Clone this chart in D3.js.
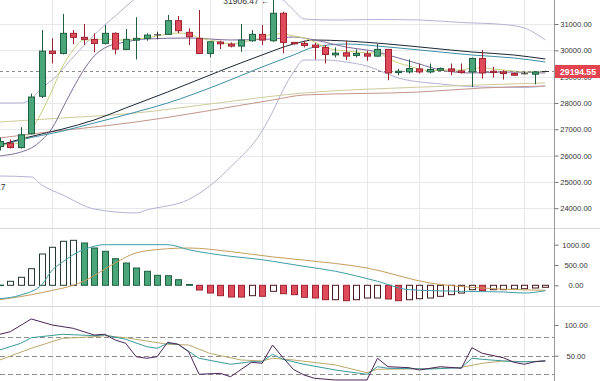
<!DOCTYPE html>
<html><head><meta charset="utf-8">
<script src="https://cdn.jsdelivr.net/npm/d3@7/dist/d3.min.js"></script>
<style>
body{margin:0;background:#fff}
svg{display:block}
text{font-family:"Liberation Sans",Arial,sans-serif}
</style>
</head><body>
<svg id="c" width="600" height="381"></svg>
<script>
// ---------- DATA ----------
const opens  = [26343,26469,26305,26828,28252,29969,29882,30645,30492,30416,30263,30645,30034,30389,30454,30590,30607,31126,30683,30454,29882,30313,30237,30160,30363,30607,30363,31408,30301,30263,30198,30111,29828,29905,29805,29866,29779,30034,29156,29179,29294,29179,29244,29294,29217,29179,29691,29206,29179,29118,29110,29092,29194.55];
const highs  = [26687,26610,27080,28355,30771,30454,31382,30771,31000,30645,30962,30683,30809,31256,30645,30706,31344,31305,30836,31534,30330,30363,30301,31000,30771,30962,31906.47,31469,30313,30363,30286,30198,30111,30363,30034,29981,30237,30040,29294,29653,29500,29500,29347,29500,29500,29729,30008,29370,29244,29156,29179,29217,29225];
const lows   = [26191,26267,26267,26801,28187,29500,29843,30237,30198,29920,30225,29843,30008,29653,30363,30416,30580,30645,30198,29870,29729,30046,30111,29943,30324,30198,30324,29882,30225,30111,29653,29500,29729,29626,29729,29599,29752,28863,29053,29118,29118,29118,29217,29053,29118,28607,28927,28966,28889,29027,29092,28710,29175];
const closes = [26534,26305,26790,28225,29969,29882,30645,30492,30416,30263,30645,30046,30416,30454,30580,30590,31126,30744,30515,29882,30324,30248,30160,30389,30607,30389,31408,30301,30248,30187,30111,29843,29893,29779,29882,29779,30034,29141,29206,29309,29179,29271,29309,29206,29156,29691,29141,29156,29118,29053,29110,29179,29194.55];

const priceTicks = [24000,25000,26000,27000,28000,29000,30000,31000];
const lastPrice = 29194.55;
const highLabel = "31906.47";
const lowLabel = "24711.17";

// indicator lines in the price panel: [candle index, price]
const ma5 = [[0,26400],[1,26420],[2,26516],[3,26972],[4,27656],[5,28492],[6,29404],[7,30012],[8,30392],[9,30392],[10,30430],[11,30392],[12,30392],[13,30430],[14,30468],[15,30544],[16,30620],[17,30658],[18,30620],[19,30468],[20,30392],[21,30316],[22,30240],[23,30278],[24,30392],[25,30468],[26,30620],[27,30620],[28,30544],[29,30468],[30,30316],[31,30126],[32,30012],[33,29974],[34,29936],[35,29898],[36,29898],[37,29708],[38,29518],[39,29404],[40,29290],[41,29214],[42,29252],[43,29252],[44,29252],[45,29328],[46,29328],[47,29290],[48,29252],[49,29214],[50,29176],[51,29176],[52,29195]];
const ma10 = [[0,25984],[3,26288],[4,26592],[5,27048],[6,27808],[7,28568],[8,29252],[9,29784],[10,30088],[12,30316],[14,30430],[18,30468],[22,30392],[26,30430],[28,30506],[30,30392],[33,30126],[36,29936],[38,29708],[40,29480],[42,29252],[45,29138],[48,29176],[52,29138]];
const ma30 = [[0,26402],[2,26630],[6,27010],[9,27352],[12,27808],[16,28416],[21,29214],[25,29822],[28,30240],[30,30392],[33,30354],[37,30240],[41,30088],[45,29936],[49,29822],[52,29670]];
const ma60 = [[0,26364],[2,26592],[6,26934],[9,27238],[13,27656],[16,27998],[21,28720],[25,29366],[28,29822],[30,30126],[33,30240],[37,30126],[41,29974],[45,29822],[49,29708],[52,29556]];
const maLongA = [[0,26668],[3,26820],[13,27276],[26,28112],[29,28302],[40,28416],[46,28568],[52,28644]];
const maLongB = [[0,27276],[6,27428],[13,27618],[20,27960],[29,28380],[40,28600],[52,28760]];
const bollUp = [[0,27998],[2,27998],[3,28150],[4,28568],[5,28872],[7,29746],[9,30582],[11,31304],[13,31988],[16,32600],[20,32800],[24,32500],[26,32150],[27,31912],[28,31532],[29,31190],[32,31152],[36,31171],[40,31152],[44,31057],[48,30981],[50,30848],[51,30658],[52,30392]];
const bollDn = [[0,25224],[3,25186],[4,24882],[6,24502],[9,23970],[13,23818],[14,23932],[18,24331],[20,24844],[22,25566],[25,26934],[26,27656],[27,28492],[28,29176],[29,29632],[31,29632],[33,29556],[35,29400],[37,29100],[38,28948],[42,28720],[46,28606],[50,28587],[52,28644]];

// MACD
const macdHist = [5,98,197,409,771,936,1084,1108,1042,919,837,655,549,426,345,246,236,138,20,-116,-190,-256,-288,-290,-256,-271,-148,-207,-231,-296,-313,-355,-355,-379,-355,-313,-313,-337,-379,-355,-330,-313,-271,-231,-190,-108,-133,-108,-108,-91,-84,-66,-49];
const macdDif = [[0,-330],[2,-240],[4,15],[5,376],[6,574],[7,754],[9,961],[10,1000],[16,1000],[18,877],[22,714],[25,631],[26,591],[29,468],[32,345],[36,99],[39,-108],[44,-148],[48,-165],[50,-190],[52,-133]];
const macdDea = [[0,-355],[4,-180],[8,99],[11,550],[13,798],[16,900],[18,919],[22,830],[26,700],[29,620],[35,426],[41,57],[46,-67],[52,-123]];
const macdTicks = [0,500,1000];

// KDJ
const kdjJ = [[0,84.9],[1,89.1],[3,109.8],[5,100],[7,94.6],[9,83.7],[10,84.9],[11,75.6],[12,70.2],[13,48.4],[14,45.8],[15,48.4],[16,71.8],[17,68.6],[18,56.5],[19,19.7],[21,21.3],[22,15.8],[24,39.3],[25,37.6],[26,67.4],[27,46.7],[28,27.5],[29,18.6],[30,13.2],[32,10.4],[35,10.4],[36,45.8],[37,32.1],[39,30.5],[40,26.7],[42,32.1],[44,29.5],[45,63.0],[46,53.9],[48,46.7],[49,39.3],[50,36.0],[51,40.2],[52,41.4]];
const kdjK = [[0,59.3],[2,70.2],[3,79.3],[6,84.9],[9,82.6],[10,83.7],[12,76.7],[14,64.7],[15,62.1],[16,70.2],[17,68.6],[19,45.8],[22,36.0],[24,40.2],[25,40.2],[26,52.3],[27,44.1],[29,36.0],[32,26.7],[35,19.7],[36,32.1],[37,29.5],[41,28.3],[44,30.5],[45,45.8],[46,44.1],[49,40.2],[51,40.2],[52,41.9]];
const kdjD = [[0,43.0],[3,62.1],[6,78.3],[9,80.9],[10,82.6],[12,79.3],[16,68.6],[18,67.4],[20,53.9],[23,43.0],[25,41.4],[26,45.8],[28,43.0],[32,34.9],[35,22.3],[36,27.9],[38,28.3],[42,29.5],[44,31.1],[46,37.6],[48,41.4],[50,40.2],[52,41.4]];
const kdjTicks = [50,100];
const kdjLevels = [20,50,80];

// ---------- DRAW ----------
const svg = d3.select("#c");
const W = 600, H = 381, AX = 554.5;
const x = d3.scaleLinear().domain([0,52]).range([-0.2,545.3]);
const yP = d3.scaleLinear().domain([24000,31000]).range([208.2,24]);
const yM = d3.scaleLinear().domain([0,1000]).range([285.3,244.7]);
const yK = d3.scaleLinear().domain([0,100]).range([386.4,325]);
const fmt = d3.format(".2f");

const defs = svg.append("defs");
function clip(id, y0, y1){ defs.append("clipPath").attr("id",id).append("rect").attr("x",0).attr("y",y0).attr("width",AX).attr("height",y1-y0); }
clip("cp",0,228); clip("cm",229.5,306); clip("ck",307.5,381);

svg.append("rect").attr("width",W).attr("height",H).attr("fill","#fff");

// vertical grid
const gridIdx = d3.range(5,53,5);
[[0,228],[229.5,306],[307.5,381]].forEach(([a,b])=>{
  svg.append("g").selectAll("line").data(gridIdx).join("line")
    .attr("x1",d=>Math.round(x(d))+0.5).attr("x2",d=>Math.round(x(d))+0.5)
    .attr("y1",a).attr("y2",b).attr("stroke","#e6e8ea").attr("stroke-width",1);
});
// horizontal grid in price panel
svg.append("g").selectAll("line").data(priceTicks).join("line")
  .attr("x1",0).attr("x2",AX).attr("y1",d=>Math.round(yP(d))+0.5).attr("y2",d=>Math.round(yP(d))+0.5)
  .attr("stroke","#e6e8ea");

// separators
[228.5,306.5].forEach(y=>svg.append("line").attr("x1",0).attr("x2",W).attr("y1",y).attr("y2",y).attr("stroke","#d5d7da"));

// --- price panel ---
const gP = svg.append("g").attr("clip-path","url(#cp)");
const lineP = d3.line().x(d=>x(d[0])).y(d=>yP(d[1])).curve(d3.curveMonotoneX);
const pLines = [
  [bollUp,"#b4b2d4",1],[bollDn,"#b4b2d4",1],
  [maLongB,"#cfcb9c",1],[maLongA,"#c2968a",1],
  [ma60,"#3f8ea6",1],[ma30,"#1d2633",1],
  [ma10,"#7d6c9a",1],[ma5,"#c7d07c",1]
];
pLines.forEach(([d,c,w])=>gP.append("path").datum(d).attr("d",lineP).attr("fill","none").attr("stroke",c).attr("stroke-width",w));

// last price dashed line
gP.append("line").attr("x1",0).attr("x2",AX).attr("y1",yP(lastPrice)).attr("y2",yP(lastPrice))
  .attr("stroke","#8a8a8a").attr("stroke-dasharray","3,3");

const candles = d3.range(opens.length).map(i=>({i,o:opens[i],h:highs[i],l:lows[i],c:closes[i]}));
const UP_F="#4aa57b", UP_S="#1f5f40", DN_F="#e04b5b", DN_S="#9c2230", DOJI="#333";
const col = d=> d.c>d.o ? [UP_F,UP_S] : d.c<d.o ? [DN_F,DN_S] : ["#333",DOJI];
const cg = gP.append("g").selectAll("g").data(candles).join("g");
cg.append("line")
  .attr("x1",d=>Math.round(x(d.i))+0.5).attr("x2",d=>Math.round(x(d.i))+0.5)
  .attr("y1",d=>yP(d.h)).attr("y2",d=>yP(d.l)).attr("stroke",d=>col(d)[1]);
cg.append("rect")
  .attr("x",d=>Math.round(x(d.i))-3+0.5).attr("width",6)
  .attr("y",d=>yP(Math.max(d.o,d.c))).attr("height",d=>Math.max(0.01,Math.abs(yP(d.o)-yP(d.c))))
  .attr("fill",d=>col(d)[0]).attr("stroke",d=>col(d)[1]).attr("stroke-width",1);

// high/low labels
const hiIdx = highs.indexOf(d3.max(highs));
gP.append("text").attr("x",x(hiIdx)-3).attr("y",yP(d3.max(highs))+3.5).attr("text-anchor","end")
  .attr("font-size",8.5).attr("fill","#333").text(highLabel+" \u2190");
gP.append("text").attr("x",5.5).attr("y",190).attr("text-anchor","end")
  .attr("font-size",8.5).attr("fill","#333").text(lowLabel);

// --- MACD panel ---
const gM = svg.append("g").attr("clip-path","url(#cm)");
const hist = macdHist.map((v,i)=>({i,v,prev:i>0?macdHist[i-1]:v}));
function hstyle(d){
  if(d.v>=0) return d.v>d.prev ? ["#fff","#24392f"] : [UP_F,UP_S];
  return d.v<d.prev ? [DN_F,DN_S] : ["#fff","#4a1a20"];
}
gM.selectAll("rect").data(hist).join("rect")
  .attr("x",d=>Math.round(x(d.i))-3+0.5).attr("width",6)
  .attr("y",d=>Math.min(yM(d.v),yM(0))).attr("height",d=>Math.max(0.5,Math.abs(yM(d.v)-yM(0))))
  .attr("fill",d=>hstyle(d)[0]).attr("stroke",d=>hstyle(d)[1]);
const lineM = d3.line().x(d=>x(d[0])).y(d=>yM(d[1])).curve(d3.curveMonotoneX);
gM.append("path").datum(macdDea).attr("d",lineM).attr("fill","none").attr("stroke","#c59d5c");
gM.append("path").datum(macdDif).attr("d",lineM).attr("fill","none").attr("stroke","#3f9ea6");

// --- KDJ panel ---
const gK = svg.append("g").attr("clip-path","url(#ck)");
gK.selectAll("line.lv").data(kdjLevels).join("line").attr("class","lv")
  .attr("x1",0).attr("x2",AX).attr("y1",d=>Math.round(yK(d))+0.5).attr("y2",d=>Math.round(yK(d))+0.5)
  .attr("stroke","#8d8d8d").attr("stroke-dasharray","5,3");
const lineK = d3.line().x(d=>x(d[0])).y(d=>yK(d[1])).curve(d3.curveLinear);
gK.append("path").datum(kdjD).attr("d",lineK).attr("fill","none").attr("stroke","#bba86c");
gK.append("path").datum(kdjK).attr("d",lineK).attr("fill","none").attr("stroke","#3c9a9a");
gK.append("path").datum(kdjJ).attr("d",lineK).attr("fill","none").attr("stroke","#4b2458");

// --- right axes ---
svg.append("line").attr("x1",AX).attr("x2",AX).attr("y1",0).attr("y2",H).attr("stroke","#9a9a9a");
function axis(scale, ticks){
  const g = svg.append("g").attr("transform",`translate(${AX},0)`)
    .call(d3.axisRight(scale).tickValues(ticks).tickFormat(fmt).tickSize(4).tickPadding(3));
  g.select(".domain").remove();
  g.selectAll(".tick line").attr("stroke","#777");
  g.selectAll(".tick text").attr("x",21.5).attr("text-anchor","middle")
    .attr("font-size",7.6).attr("fill","#333").attr("font-family","Liberation Sans, Arial, sans-serif");
  return g;
}
axis(yP, priceTicks);
axis(yM, macdTicks);
axis(yK, kdjTicks);

// last price tag
const ty = yP(lastPrice);
svg.append("rect").attr("x",555).attr("y",ty-6.5).attr("width",45).attr("height",13).attr("fill","#e2434f");
svg.append("text").attr("x",578).attr("y",ty+3).attr("text-anchor","middle")
  .attr("font-size",8.6).attr("font-weight","bold").attr("fill","#fff").text(fmt(lastPrice));
</script>
</body></html>
